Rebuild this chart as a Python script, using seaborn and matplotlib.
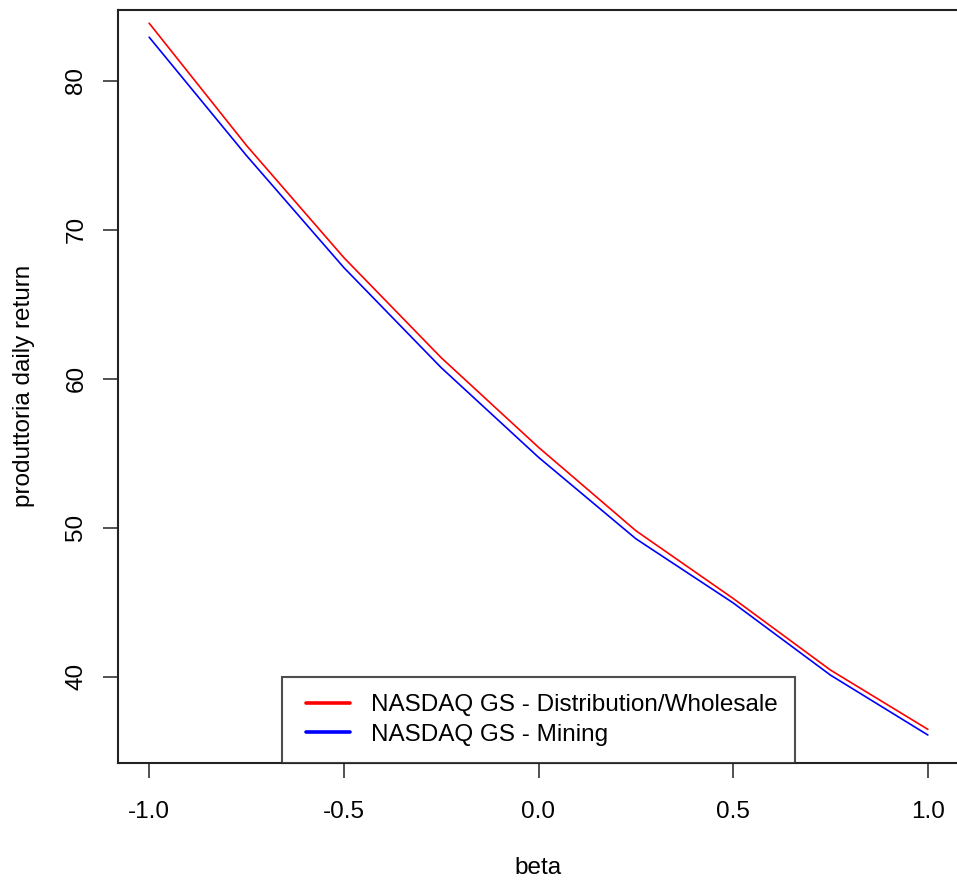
import matplotlib
matplotlib.use("Agg")
import matplotlib.pyplot as plt
import seaborn as sns
import pandas as pd
from matplotlib.lines import Line2D
from matplotlib.legend_handler import HandlerLine2D

beta = [-1.0, -0.75, -0.5, -0.25, 0.0, 0.25, 0.5, 0.75, 1.0]
distribution = [83.88, 75.67, 68.14, 61.42, 55.40, 49.80, 45.25, 40.44, 36.46]
mining = [82.94, 74.99, 67.47, 60.75, 54.73, 49.26, 44.95, 40.10, 36.08]
series_names = ["NASDAQ GS - Distribution/Wholesale", "NASDAQ GS - Mining"]
x_ticks = [-1.0, -0.5, 0.0, 0.5, 1.0]
y_ticks = [40, 50, 60, 70, 80]

df = pd.concat([
    pd.DataFrame({"beta": beta, "value": distribution, "series": series_names[0]}),
    pd.DataFrame({"beta": beta, "value": mining, "series": series_names[1]}),
])

sns.set_style("white")
plt.rcParams["font.family"] = ["Liberation Sans", "DejaVu Sans"]
plt.rcParams["text.color"] = "black"
plt.rcParams["axes.labelcolor"] = "black"

fig = plt.figure(figsize=(9.57, 8.85), dpi=100)
ax = fig.add_axes([118/957, 1-763/885, (959-118)/957, (763-9.5)/885])

palette = {series_names[0]: "#ff0000", series_names[1]: "#0000ff"}
sns.lineplot(data=df, x="beta", y="value", hue="series", palette=palette,
             linewidth=1.2, ax=ax, legend=False, estimator=None, sort=False)

ax.set_xlim(-1.08, 1.08)
ax.set_ylim(34.2, 84.8)
ax.set_xticks(x_ticks)
ax.set_xticklabels([f"{t:.1f}" for t in x_ticks])
ax.set_yticks(y_ticks)
ax.set_yticklabels([str(t) for t in y_ticks], rotation=90, va="center")

for s in ax.spines.values():
    s.set_visible(True)
    s.set_color("#222222")
    s.set_linewidth(1.5)
ax.spines["right"].set_visible(False)

ax.tick_params(axis="both", direction="out", length=11, width=1.1, color="#222222",
               labelsize=17.5, labelcolor="black", bottom=True, left=True)
ax.tick_params(axis="x", pad=16)
ax.tick_params(axis="y", pad=11)

ax.set_xlabel("beta", fontsize=17.5, labelpad=25)
ax.set_ylabel("produttoria daily return", fontsize=17.5, labelpad=22)


class OffsetLineHandler(HandlerLine2D):
    def __init__(self, offset, **kw):
        super().__init__(**kw)
        self.offset = offset

    def create_artists(self, legend, orig_handle, xdescent, ydescent, width,
                       height, fontsize, trans):
        return super().create_artists(legend, orig_handle, xdescent - self.offset,
                                      ydescent, width - self.offset, height,
                                      fontsize, trans)


handles = [Line2D([0], [0], color="#ff0000", lw=2.6),
           Line2D([0], [0], color="#0000ff", lw=2.6)]
hmap = {h: OffsetLineHandler(5) for h in handles}
leg = ax.legend(handles, series_names, loc="lower center", bbox_to_anchor=(0.5, 0.0),
                fontsize=17.5, frameon=True, fancybox=False, edgecolor="#222222",
                handlelength=2.1, handletextpad=0.85, borderpad=0.7,
                labelspacing=0.32, borderaxespad=0.0, handler_map=hmap)
leg.get_frame().set_linewidth(1.5)
for t in leg.get_texts():
    t.set_color("black")

fig.savefig("out.png", dpi=100, facecolor="white")
